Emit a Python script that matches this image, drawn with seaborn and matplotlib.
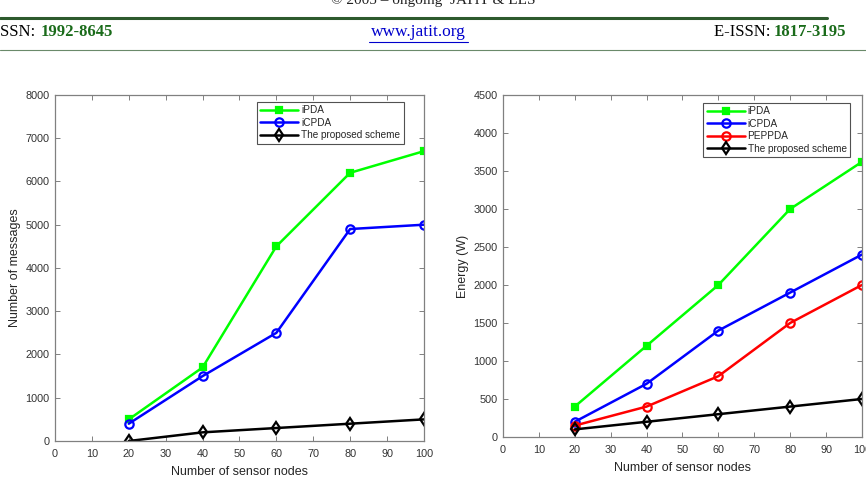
import matplotlib
matplotlib.use("Agg")
import matplotlib.pyplot as plt
import seaborn as sns
import pandas as pd

# Data
nodes = [20, 40, 60, 80, 100]

# left panel: number of messages
msg_ipda = [500, 1700, 4500, 6200, 6700]
msg_icpda = [400, 1500, 2500, 4900, 5000]
msg_proposed = [0, 200, 300, 400, 500]

# right panel: energy
en_ipda = [400, 1200, 2000, 3000, 3620]
en_icpda = [200, 700, 1400, 1900, 2400]
en_peppda = [150, 400, 800, 1500, 2000]
en_proposed = [100, 200, 300, 400, 500]

x_ticks = [0, 10, 20, 30, 40, 50, 60, 70, 80, 90, 100]
msg_ticks = [0, 1000, 2000, 3000, 4000, 5000, 6000, 7000, 8000]
en_ticks = [0, 500, 1000, 1500, 2000, 2500, 3000, 3500, 4000, 4500]

sns.set_style("white")
plt.rcParams['font.family'] = ['Liberation Sans', 'DejaVu Sans']

# series styles: color, marker, filled?, size
styles = {
    'iPDA': ('#00ff00', 's', True, 4.5),
    'iCPDA': ('#0000ff', 'o', False, 6),
    'PEPPDA': ('#ff0000', 'o', False, 6),
    'The proposed scheme': ('#000000', 'd', False, 6.5),
}

fig = plt.figure(figsize=(8.66, 4.78), dpi=100)
ax1 = fig.add_axes([0.0635, 0.0774, 0.426, 0.724])
ax2 = fig.add_axes([0.5808, 0.0858, 0.4145, 0.7155])


def draw(ax, series, yticks, ylabel, leg_anchor):
    for name, vals in series:
        color, marker, filled, ms = styles[name]
        df = pd.DataFrame({'x': nodes, 'y': vals})
        sns.lineplot(data=df, x='x', y='y', ax=ax, color=color, marker=marker,
                     markersize=ms,
                     markerfacecolor=color if filled else 'none',
                     markeredgecolor=color, markeredgewidth=1.6,
                     linewidth=1.8, label=name)
    ax.set_xlim(0, 100)
    ax.set_ylim(yticks[0], yticks[-1])
    ax.set_xticks(x_ticks)
    ax.set_yticks(yticks)
    ax.set_xlabel('Number of sensor nodes', fontsize=9, color='#262626', labelpad=5)
    ax.set_ylabel(ylabel, fontsize=9, color='#262626', labelpad=3)
    ax.tick_params(axis='both', which='both', direction='in', length=3.5, width=0.7,
                   colors='#808080', labelcolor='#333333', labelsize=7.8,
                   top=True, right=True, bottom=True, left=True)
    ax.tick_params(axis='x', pad=6)
    ax.tick_params(axis='y', pad=4)
    for sp in ax.spines.values():
        sp.set_color('#808080')
        sp.set_linewidth(0.9)
    leg = ax.legend(loc='upper right', bbox_to_anchor=leg_anchor, fontsize=7.2,
                    frameon=True, fancybox=False,
                    handlelength=3.8, handletextpad=0.3, borderpad=0.35,
                    labelspacing=0.25, borderaxespad=0.0)
    leg.get_frame().set_edgecolor('#262626')
    leg.get_frame().set_linewidth(0.8)


draw(ax1, [('iPDA', msg_ipda), ('iCPDA', msg_icpda),
           ('The proposed scheme', msg_proposed)], msg_ticks, 'Number of messages',
     (0.946, 0.98))
draw(ax2, [('iPDA', en_ipda), ('iCPDA', en_icpda), ('PEPPDA', en_peppda),
           ('The proposed scheme', en_proposed)], en_ticks, 'Energy (W)',
     (0.967, 0.977))

# page header of the journal
serif = ['Liberation Serif', 'DejaVu Serif']
green = '#1a6b1a'
fig.text(0.5, 1.0, '\u00a9 2005 \u2013 ongoing  JATIT & LLS', ha='center', va='center',
         fontsize=11, family=serif, color='#222222')
fig.add_artist(plt.Line2D([0.0, 0.955], [1 - 18 / 478, 1 - 18 / 478], color='#2d5a2d', lw=2.2))
fig.add_artist(plt.Line2D([0.0, 1.0], [1 - 50 / 478, 1 - 50 / 478], color='#6a8a6a', lw=0.8))
ytxt = 1 - 32 / 478
fig.text(0.0, ytxt, 'SSN: ', ha='left', va='center', fontsize=12, family=serif, color='black')
fig.text(0.047, ytxt, '1992-8645', ha='left', va='center', fontsize=12, family=serif,
         color=green, fontweight='bold')
fig.text(0.483, ytxt, 'www.jatit.org', ha='center', va='center', fontsize=12.5, family=serif,
         color='#0000cc')
fig.add_artist(plt.Line2D([0.426, 0.540], [ytxt - 0.02, ytxt - 0.02], color='#0000cc', lw=0.8))
fig.text(0.894, ytxt, 'E-ISSN: ', ha='right', va='center', fontsize=12, family=serif, color='black')
fig.text(0.893, ytxt, '1817-3195', ha='left', va='center', fontsize=12, family=serif,
         color=green, fontweight='bold')

fig.savefig('out.png', dpi=100)
